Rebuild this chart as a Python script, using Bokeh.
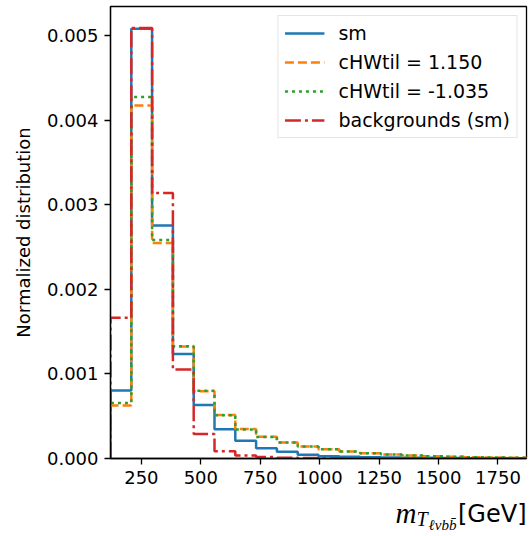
import numpy as np
from bokeh.plotting import figure
from bokeh.layouts import column
from bokeh.models import (Range1d, FixedTicker, PrintfTickFormatter, Legend,
                          LegendItem)
from bokeh.core.properties import value
from bokeh.embed import file_html
from bokeh.resources import INLINE

# Histogram binning of the transverse mass (GeV)
bin_edges = [120.0, 207.5, 295.0, 382.5, 470.0, 557.5, 645.0, 732.5, 820.0,
             907.5, 995.0, 1082.5, 1170.0, 1257.5, 1345.0, 1432.5, 1520.0,
             1607.5, 1695.0, 1782.5, 1870.0]

# Normalized bin contents (in units of 1e-3 per GeV)
sm_density = [0.803, 5.080, 2.756, 1.236, 0.632, 0.346, 0.209, 0.122, 0.079,
              0.043, 0.028, 0.020, 0.016, 0.012, 0.010, 0.008, 0.006, 0.004,
              0.003, 0.002]
chwtil_pos_density = [0.626, 4.175, 2.547, 1.323, 0.795, 0.514, 0.348, 0.257,
                      0.190, 0.143, 0.110, 0.084, 0.063, 0.047, 0.035, 0.028,
                      0.020, 0.016, 0.012, 0.008]
chwtil_neg_density = [0.657, 4.273, 2.583, 1.328, 0.800, 0.510, 0.344, 0.254,
                      0.188, 0.141, 0.108, 0.082, 0.062, 0.046, 0.034, 0.027,
                      0.020, 0.015, 0.011, 0.008]
bkg_density = [1.665, 5.090, 3.140, 1.051, 0.290, 0.086, 0.035, 0.017, 0.010,
               0.006, 0.004, 0.003, 0.002, 0.002, 0.001, 0.001, 0.001, 0.001,
               0.0005, 0.0005]

series_labels = ["sm", "cHWtil = 1.150", "cHWtil = -1.035", "backgrounds (sm)"]
x_ticks = [250, 500, 750, 1000, 1250, 1500, 1750]
y_ticks = [0.0, 0.001, 0.002, 0.003, 0.004, 0.005]

FONT = "DejaVu Sans"
MATH_FONT = "Liberation Serif"


def step_outline(edges, dens):
    """Closed step outline like a 'step' histogram: starts and ends at zero."""
    e = np.asarray(edges, dtype=float)
    v = np.asarray(dens, dtype=float) * 1e-3
    xs = np.repeat(e, 2)
    ys = np.concatenate([[0.0], np.repeat(v, 2), [0.0]])
    return xs, ys


p = figure(width=529, height=496, output_backend="svg", toolbar_location=None,
           min_border_left=110, min_border_right=3, min_border_top=6,
           min_border_bottom=38)
p.frame_align = False
ymax = max(max(sm_density), max(bkg_density)) * 1e-3 * 1.05
p.x_range = Range1d(bin_edges[0], bin_edges[-1])
p.y_range = Range1d(0, ymax)

p.xgrid.visible = False
p.ygrid.visible = False
p.outline_line_color = "black"
p.outline_line_width = 1.3
p.background_fill_color = "white"
p.border_fill_color = "white"

for ax in (p.xaxis[0], p.yaxis[0]):
    ax.axis_line_color = "black"
    ax.axis_line_width = 1.3
    ax.major_tick_in = 0
    ax.major_tick_out = 6
    ax.major_tick_line_width = 1.3
    ax.minor_tick_line_color = None
    ax.major_label_text_font = FONT
    ax.major_label_text_font_size = "18px"
    ax.major_label_text_color = "black"
    ax.major_label_standoff = 6

p.xaxis.ticker = FixedTicker(ticks=x_ticks)
p.yaxis.ticker = FixedTicker(ticks=y_ticks)
p.yaxis.formatter = PrintfTickFormatter(format="%.3f")

p.yaxis.axis_label = "Normalized distribution"
p.yaxis.axis_label_text_font = FONT
p.yaxis.axis_label_text_font_style = "normal"
p.yaxis.axis_label_text_font_size = "18px"
p.yaxis.axis_label_text_color = "black"
p.yaxis.axis_label_standoff = 10

styles = [
    ("#1f77b4", "solid", sm_density),
    ("#ff7f0e", "9 4", chwtil_pos_density),
    ("#2ca02c", "3 4", chwtil_neg_density),
    ("#d62728", "16 4 3 4", bkg_density),
]

items = []
for (color, dash, dens), lab in zip(styles, series_labels):
    xs, ys = step_outline(bin_edges, dens)
    r = p.line(xs, ys, line_color=color, line_width=2.5, line_dash=dash)
    items.append(LegendItem(label=lab, renderers=[r]))

legend = Legend(items=items, location="top_right")
legend.label_text_font = FONT
legend.label_text_font_size = "19px"
legend.label_text_color = "black"
legend.glyph_width = 40
legend.glyph_height = 20
legend.label_height = 20
legend.spacing = 7
legend.padding = 6
legend.margin = 9
legend.label_standoff = 14
legend.border_line_color = "#cccccc"
legend.border_line_width = 1.3
legend.background_fill_alpha = 0.8
p.add_layout(legend)

# Strip under the plot holding the x-axis title  m_{T_{l nu b bbar}} [GeV]
# (its frame spans the whole strip, so x/y below are pixels within it)
t = figure(width=529, height=40, output_backend="svg", toolbar_location=None,
           x_range=Range1d(0, 529), y_range=Range1d(0, 40),
           x_axis_location=None, y_axis_location=None,
           min_border=0, min_border_left=0, min_border_right=0,
           min_border_top=0, min_border_bottom=0)
t.frame_align = False
t.xgrid.visible = False
t.ygrid.visible = False
t.outline_line_color = None
t.background_fill_color = "white"
t.border_fill_color = "white"

t.text(x=[395], y=[24], text=["m"], text_font=value(MATH_FONT),
       text_font_style="italic", text_font_size="29px", text_color="black",
       text_align="left", text_baseline="alphabetic")
t.text(x=[416], y=[18], text=["T"], text_font=value(MATH_FONT),
       text_font_style="italic", text_font_size="20px", text_color="black",
       text_align="left", text_baseline="alphabetic")
t.text(x=[428], y=[12], text=["\u2113\u03bdb" + "b\u0304"],
       text_font=value(MATH_FONT), text_font_style="italic",
       text_font_size="15px", text_color="black",
       text_align="left", text_baseline="alphabetic")
t.text(x=[526], y=[23], text=["[GeV]"], text_font=value(FONT),
       text_font_size="24px", text_color="black",
       text_align="right", text_baseline="alphabetic")

layout = column(p, t, spacing=0)
open("out.html", "w").write(file_html(layout, INLINE))
